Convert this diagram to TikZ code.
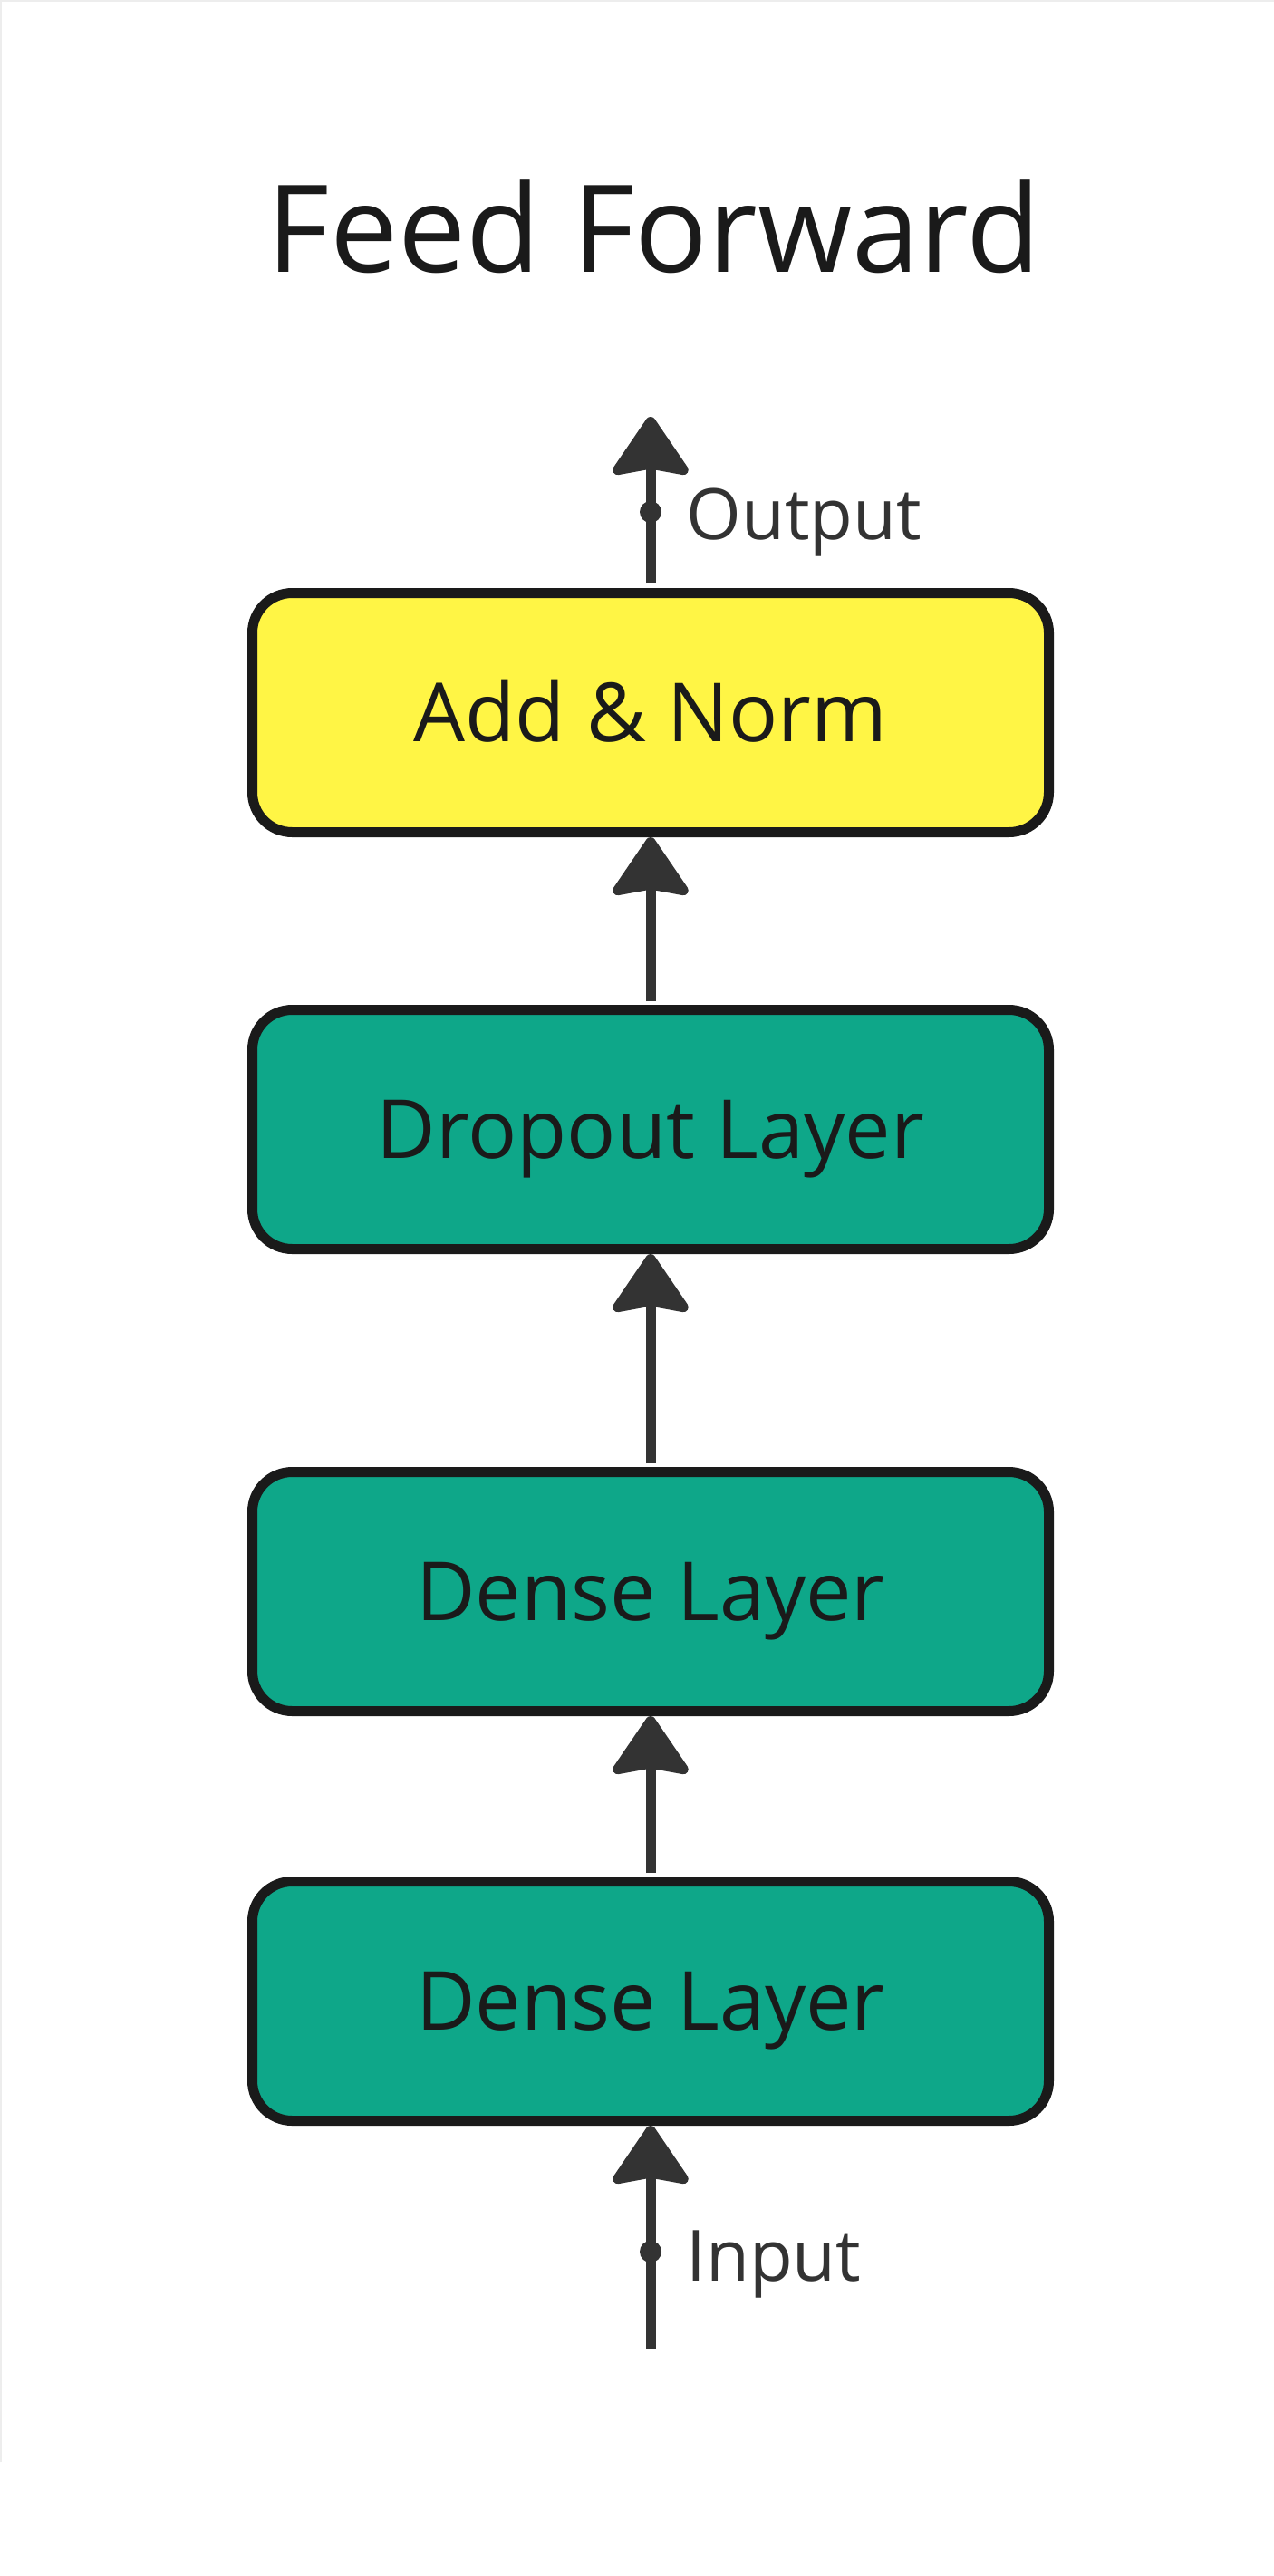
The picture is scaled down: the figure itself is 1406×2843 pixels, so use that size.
\documentclass[tikz,border=0pt]{standalone}
\usepackage{fontspec}
\setmainfont{Open Sans}
\usetikzlibrary{arrows.meta}
\definecolor{boxyellow}{HTML}{FFF545}
\definecolor{boxteal}{HTML}{0EA789}
\definecolor{edgedark}{HTML}{1A1A1A}
\definecolor{arrowgray}{HTML}{333333}
\definecolor{framegray}{HTML}{EDEDED}
\begin{document}
\begin{tikzpicture}[x=0.5pt,y=-0.5pt,
  layer/.style={draw=edgedark, line width=5.5pt, rounded corners=22pt,
    minimum width=439.5pt, minimum height=132pt, inner sep=0pt,
    text height=32pt, text depth=0pt,
    font=\fontsize{45pt}{54pt}\selectfont, text=edgedark},
  flow/.style={draw=arrowgray, line width=5.5pt,
    -{Stealth[length=35pt,width=47pt,inset=4pt,round]}},
  joindot/.style={circle, fill=arrowgray, minimum size=12pt, inner sep=0pt},
  iolabel/.style={anchor=base west, inner sep=0pt, text=arrowgray,
    font=\fontsize{39pt}{46pt}\selectfont}]
\useasboundingbox (0,0) rectangle (1406,2843);
\fill[white] (0,0) rectangle (1406,2843);
\draw[framegray, line width=1pt] (1,2717) -- (1,1) -- (1406,1);

\node (title) [anchor=base, inner sep=0pt, text=edgedark,
  font=\fontsize{67pt}{80pt}\selectfont] at (722,300) {Feed Forward};

\node[layer, fill=boxyellow] (addnorm) at (718,786.5) {Add \& Norm};
\node[layer, fill=boxteal] (dropout) at (718,1246.5) {Dropout Layer};
\node[layer, fill=boxteal] (dense2) at (718,1756.5) {Dense Layer};
\node[layer, fill=boxteal] (dense1) at (718,2208.5) {Dense Layer};

\coordinate (outtip) at (718,460);
\coordinate (instart) at (718,2592);

\draw[flow] (instart) -- (dense1.south);
\draw[flow] ([yshift=2pt]dense1.north) -- (dense2.south);
\draw[flow] ([yshift=2pt]dense2.north) -- (dropout.south);
\draw[flow] ([yshift=2pt]dropout.north) -- (addnorm.south);
\draw[flow] ([yshift=3pt]addnorm.north) -- (outtip);

\node[joindot] (outdot) at (718,565) {};
\node[joindot] (indot) at (718,2485) {};
\node[iolabel] (outlabel) at (757,595) {Output};
\node[iolabel] (inlabel) at (757,2517) {Input};
\end{tikzpicture}
\end{document}
